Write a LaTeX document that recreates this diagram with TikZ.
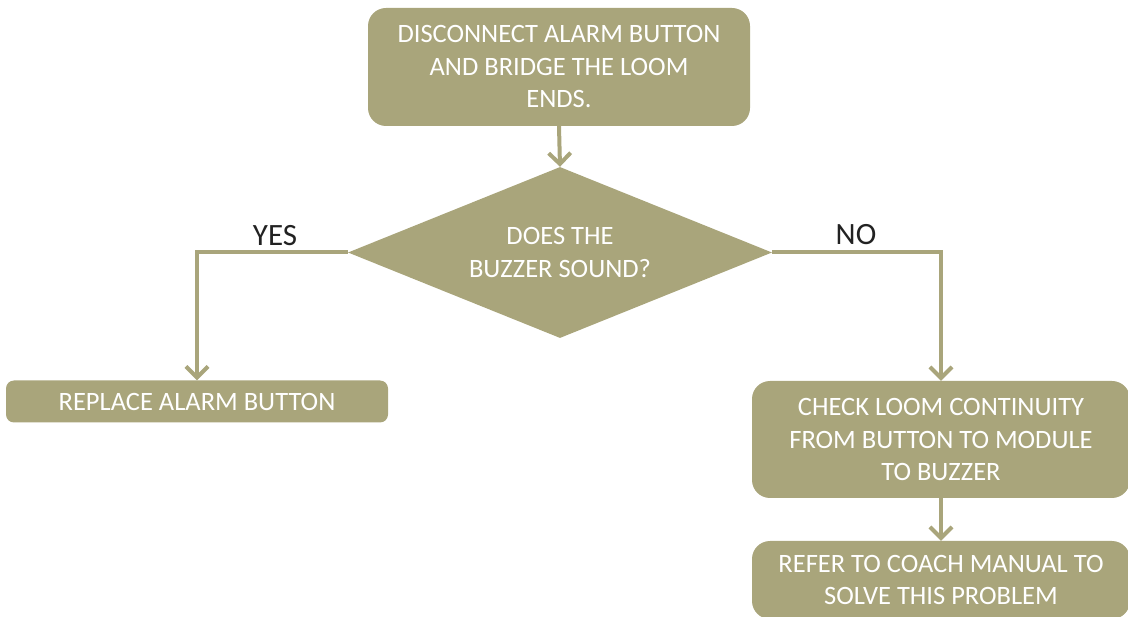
\documentclass[tikz,border=0pt]{standalone}
\usepackage{fontspec}
\setmainfont{Carlito}
\usetikzlibrary{shapes.geometric,arrows.meta}
\definecolor{olive}{RGB}{169,165,123}
\definecolor{lbl}{RGB}{34,34,34}
\begin{document}
\begin{tikzpicture}[x=1pt,y=-1pt,
  box/.style={fill=olive,draw=none,rounded corners=18pt,text=white,align=center,
    font=\fontsize{26.5}{32.5}\selectfont,inner sep=0pt},
  conn/.style={draw=olive,line width=4pt,-{Straight Barb[length=11pt,width=22pt]}},
  lab/.style={text=lbl,font=\fontsize{31}{34}\selectfont,inner sep=0pt}]
\useasboundingbox (0,0) rectangle (1128,617);
\node[box,minimum width=382pt,minimum height=118pt] (top) at (559,67)
  {DISCONNECT ALARM BUTTON\\AND BRIDGE THE LOOM\\ENDS.};
\node[diamond,fill=olive,text=white,align=center,inner sep=0pt,aspect=2.5,
  minimum width=424pt,minimum height=171pt,font=\fontsize{26.5}{32.5}\selectfont] (dia) at (560,252.5)
  {DOES THE\\BUZZER SOUND?};
\node[box,rounded corners=8pt,minimum width=382pt,minimum height=42pt] (rep) at (197,401.5)
  {REPLACE ALARM BUTTON};
\node[box,minimum width=378pt,minimum height=117pt] (chk) at (941,439.5)
  {CHECK LOOM CONTINUITY\\FROM BUTTON TO MODULE\\TO BUZZER};
\node[box,minimum width=378pt,minimum height=78pt] (ref) at (941,580)
  {REFER TO COACH MANUAL TO\\SOLVE THIS PROBLEM};
\draw[conn] (top.south) -- (dia.north);
\draw[conn] (dia.west) -| (rep.north);
\draw[conn] (dia.east) -| (chk.north);
\draw[conn] (chk.south) -- (ref.north);
\node[lab] (yes) at (275,236) {YES};
\node[lab] (no) at (856,235) {NO};
\end{tikzpicture}
\end{document}
